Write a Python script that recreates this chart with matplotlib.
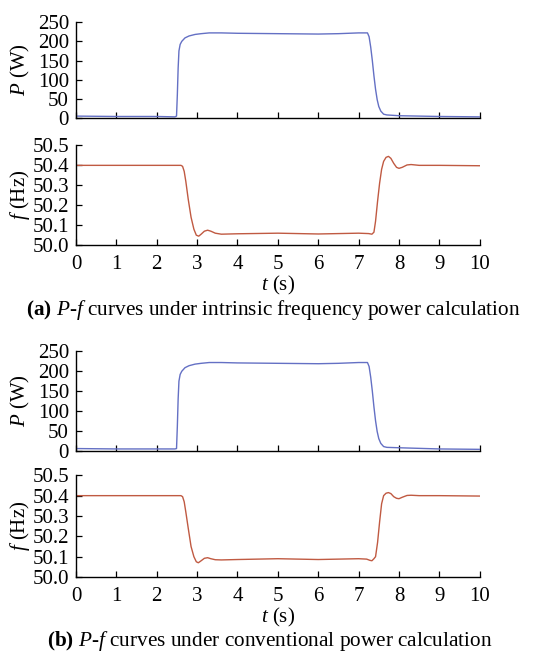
import numpy as np
import matplotlib
matplotlib.use("Agg")
import matplotlib.pyplot as plt

plt.rcParams['font.family'] = ['Liberation Serif', 'DejaVu Serif']
plt.rcParams['mathtext.fontset'] = 'custom'
plt.rcParams['mathtext.rm'] = 'Liberation Serif'
plt.rcParams['mathtext.it'] = 'Liberation Serif:italic'
plt.rcParams['mathtext.bf'] = 'Liberation Serif:bold'

#---------------------------------------------------------------- data
# power, panel (a)
t_pa = [0, 1, 2, 2.45, 2.49, 2.51, 2.53, 2.55, 2.58, 2.62, 2.7, 2.8, 2.95, 3.1, 3.3, 3.6, 4, 5, 6, 6.5, 7, 7.22,
        7.26, 7.3, 7.34, 7.38, 7.42, 7.46, 7.5, 7.55, 7.62, 7.7, 8, 9, 10]
p_pa = [5, 4, 4, 3, 5, 60, 130, 175, 192, 200, 209, 214, 218, 220, 222, 222, 221, 220, 219, 220, 222, 222,
        212, 185, 150, 110, 75, 48, 30, 18, 10, 8, 6, 4, 3]
# frequency, panel (a)
t_fa = [0, 1, 2, 2.5, 2.6, 2.64, 2.68, 2.72, 2.78, 2.85, 2.92, 2.98, 3.04, 3.1, 3.18, 3.26, 3.34, 3.45, 3.6, 4, 5, 6,
        7, 7.25, 7.33, 7.38, 7.42, 7.47, 7.52, 7.57, 7.62, 7.68, 7.74, 7.8, 7.87, 7.94, 8.0, 8.08, 8.2, 8.3, 8.5, 9, 10]
f_fa = [50.40, 50.40, 50.40, 50.40, 50.40, 50.395, 50.37, 50.32, 50.23, 50.14, 50.08, 50.05, 50.045, 50.055, 50.07,
        50.075, 50.07, 50.06, 50.055, 50.057, 50.06, 50.056, 50.06, 50.058, 50.055, 50.065, 50.12, 50.22, 50.31,
        50.38, 50.42, 50.44, 50.445, 50.435, 50.41, 50.39, 50.385, 50.39, 50.402, 50.404, 50.40, 50.40, 50.398]
# power, panel (b)
t_pb = [0, 1, 2, 2.45, 2.49, 2.51, 2.53, 2.55, 2.58, 2.62, 2.7, 2.8, 2.95, 3.1, 3.3, 3.6, 4, 5, 6, 6.5, 7, 7.22,
        7.26, 7.3, 7.34, 7.38, 7.42, 7.46, 7.5, 7.55, 7.62, 7.7, 8, 9, 10]
p_pb = [5, 4, 4, 4, 5, 60, 130, 175, 192, 200, 209, 214, 218, 220, 222, 222, 221, 220, 219, 220, 222, 222,
        212, 185, 150, 110, 75, 48, 30, 18, 10, 8, 7, 4, 3]
# frequency, panel (b)
t_fb = [0, 1, 2, 2.5, 2.6, 2.64, 2.68, 2.72, 2.78, 2.85, 2.92, 2.98, 3.03, 3.1, 3.18, 3.26, 3.34, 3.45, 3.6, 4, 5, 6,
        7, 7.2, 7.28, 7.33, 7.38, 7.42, 7.47, 7.52, 7.57, 7.62, 7.68, 7.74, 7.8, 7.87, 7.94, 8.0, 8.08, 8.2, 8.3, 8.5, 9, 10]
f_fb = [50.40, 50.40, 50.40, 50.40, 50.40, 50.395, 50.37, 50.32, 50.24, 50.15, 50.10, 50.075, 50.07, 50.08, 50.092,
        50.095, 50.09, 50.085, 50.084, 50.086, 50.09, 50.086, 50.09, 50.088, 50.082, 50.08, 50.09, 50.10, 50.17,
        50.27, 50.36, 50.40, 50.412, 50.415, 50.41, 50.395, 50.387, 50.385, 50.392, 50.401, 50.402, 50.40, 50.40, 50.398]

x_ticks = [0, 1, 2, 3, 4, 5, 6, 7, 8, 9, 10]
p_ticks = [0, 50, 100, 150, 200, 250]
f_ticks = [50.0, 50.1, 50.2, 50.3, 50.4, 50.5]
captions = [r"$\mathbf{(a)}$ $\mathit{P}$-$\mathit{f}$ curves under intrinsic frequency power calculation",
            r"$\mathbf{(b)}$ $\mathit{P}$-$\mathit{f}$ curves under conventional power calculation"]

blue = '#6470c4'
red = '#c05a42'
fs = 15

#---------------------------------------------------------------- figure
fig = plt.figure(figsize=(5.39, 6.52), dpi=100)

def style(ax):
    ax.spines['top'].set_visible(False)
    ax.spines['right'].set_visible(False)
    ax.spines['left'].set_linewidth(1.0)
    ax.spines['bottom'].set_linewidth(1.0)
    ax.tick_params(direction='in', length=4, width=0.9, labelsize=fs)
    ax.tick_params(axis='y', pad=5)
    ax.tick_params(axis='x', pad=7)
    ax.set_xlim(0, 10)
    ax.set_xticks(x_ticks)

left, width = 0.141, 0.749
panels = [
    (0.819, 0.147, 0.624, 0.153, t_pa, p_pa, t_fa, f_fa, 0.517),
    (0.309, 0.152, 0.115, 0.156, t_pb, p_pb, t_fb, f_fb, 0.009),
]
for i, (pb, ph, fb, fh, tp, pv, tf, fv, cy) in enumerate(panels):
    axp = fig.add_axes([left, pb, width, ph])
    axp.plot(tp, pv, color=blue, lw=1.0)
    style(axp)
    axp.set_ylim(0, 250)
    axp.set_yticks(p_ticks)
    axp.set_xticklabels([])
    axp.set_ylabel(r"$\mathit{P}$ (W)", fontsize=fs)

    axf = fig.add_axes([left, fb, width, fh])
    axf.plot(tf, fv, color=red, lw=1.0)
    style(axf)
    axf.set_ylim(50.0, 50.5)
    axf.set_yticks(f_ticks)
    axf.set_yticklabels([f"{v:.1f}" for v in f_ticks])
    axf.set_xlabel(r"$\mathit{t}$ (s)", fontsize=fs, labelpad=0)
    axf.set_ylabel(r"$\mathit{f}$ (Hz)", fontsize=fs)
    axp.yaxis.set_label_coords(-0.11, 0.5)
    axf.yaxis.set_label_coords(-0.11, 0.5)

    fig.text(0.5 if i == 1 else 0.507, cy, captions[i], fontsize=15.3, ha='center', va='baseline')

fig.savefig("out.png", dpi=100)
